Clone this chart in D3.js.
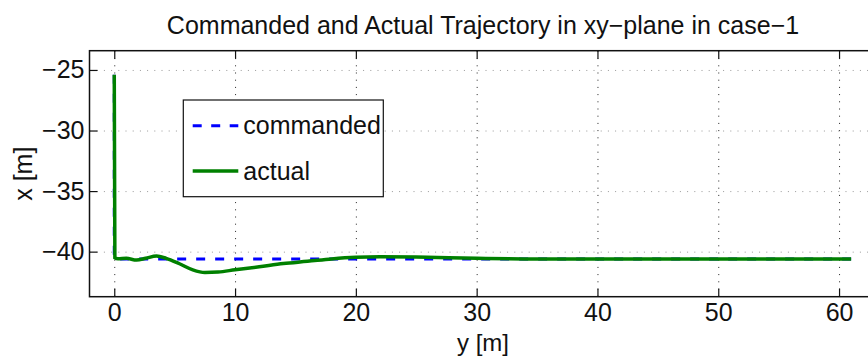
<!DOCTYPE html>
<html>
<head>
<meta charset="utf-8">
<script src="https://cdn.jsdelivr.net/npm/d3@7"></script>
<style>
body { margin: 0; background: #fff; }
text { font-family: "Liberation Sans", Arial, sans-serif; fill: #111; }
.axis path { display: none; }
.axis line { stroke: #111; stroke-width: 1.2; }
.axis text { font-size: 25px; }
.grid-h line { stroke: #999; stroke-dasharray: 1,6.2; stroke-width: 1; }
.grid-v line { stroke: #222; stroke-dasharray: 1,6.2; stroke-width: 1; }
.grid-h path, .grid-v path { display: none; }
</style>
</head>
<body>
<div id="chart"></div>
<script>
// chart data (y along horizontal, x along vertical)
const cmdY = [0, 0, 61];
const cmdX = [-25.4, -40.6, -40.6];

const actY = [0, 0.05, 0.3, 1.0, 1.85, 2.6, 3.5, 4.3, 5.4, 6.5, 7.5, 8.6, 10, 12, 14, 16, 18, 20, 22, 25, 30, 35, 40, 50, 61];
const actX = [-25.4, -40.5, -40.58, -40.55, -40.7, -40.55, -40.36, -40.55, -41.0, -41.5, -41.72, -41.68, -41.5, -41.25, -40.98, -40.8, -40.6, -40.47, -40.43, -40.45, -40.55, -40.6, -40.6, -40.6, -40.6];

const xTicks = [0, 10, 20, 30, 40, 50, 60];
const yTicks = [-40, -35, -30, -25];

const labels = {title: 'Commanded and Actual Trajectory in xy\u2212plane in case\u22121', x: 'y [m]', y: 'x [m]'};
const legendNames = ['commanded', 'actual'];

const width = 868, height = 356;
const margin = {top: 50.7, left: 89.5, bottom: 296.7, right: 876.5};

const xScale = d3.scaleLinear().domain([-2.05, 63.1]).range([margin.left, margin.right]);
const yScale = d3.scaleLinear().domain([-43.72, -23.41]).range([margin.bottom, margin.top]);
const fmt = d => d < 0 ? '\u2212' + Math.abs(d) : d;

let svg = d3.select('#chart').append('svg')
    .attr('width', width)
    .attr('height', height);

const plotH = margin.bottom - margin.top;
const plotW = margin.right - margin.left;

// grid
svg.append('g')
    .attr('class', 'grid-v')
    .attr('transform', 'translate(0,' + margin.bottom + ')')
    .call(d3.axisBottom(xScale).tickValues(xTicks).tickSize(-plotH).tickFormat(''));
svg.append('g')
    .attr('class', 'grid-h')
    .attr('transform', 'translate(' + margin.left + ',0)')
    .call(d3.axisLeft(yScale).tickValues(yTicks).tickSize(-plotW).tickFormat(''));

// lines
const line = d3.line().x(d => xScale(d[0])).y(d => yScale(d[1]));
svg.append('path')
    .datum(cmdY.map((v, i) => [v, cmdX[i]]))
    .attr('d', line)
    .attr('fill', 'none')
    .attr('stroke', '#0000ff')
    .attr('stroke-width', 3)
    .attr('stroke-dasharray', '9,10');
svg.append('path')
    .datum(actY.map((v, i) => [v, actX[i]]))
    .attr('d', d3.line().curve(d3.curveMonotoneX).x(d => xScale(d[0])).y(d => yScale(d[1])))
    .attr('fill', 'none')
    .attr('stroke', '#008000')
    .attr('stroke-width', 3.5);

// axes with inward ticks
svg.append('g')
    .attr('class', 'axis')
    .attr('transform', 'translate(0,' + margin.bottom + ')')
    .call(d3.axisBottom(xScale).tickValues(xTicks).tickSize(-8).tickPadding(7).tickFormat(fmt));
svg.append('g')
    .attr('class', 'axis')
    .attr('transform', 'translate(0,' + margin.top + ')')
    .call(d3.axisTop(xScale).tickValues(xTicks).tickSize(-8).tickFormat(''));
svg.append('g')
    .attr('class', 'axis')
    .attr('transform', 'translate(' + margin.left + ',0)')
    .call(d3.axisLeft(yScale).tickValues(yTicks).tickSize(-8).tickPadding(5).tickFormat(fmt));

// box
svg.append('rect')
    .attr('x', margin.left).attr('y', margin.top)
    .attr('width', plotW).attr('height', plotH)
    .attr('fill', 'none').attr('stroke', '#111').attr('stroke-width', 1.5);

// title and labels
const cx = (margin.left + margin.right) / 2;
svg.append('text')
    .attr('x', cx).attr('y', 34)
    .attr('text-anchor', 'middle')
    .style('font-size', '25px')
    .text(labels.title);
svg.append('text')
    .attr('x', cx).attr('y', 351)
    .attr('text-anchor', 'middle')
    .style('font-size', '24px')
    .text(labels.x);
svg.append('text')
    .attr('transform', 'translate(32,' + (margin.top + plotH / 2) + ') rotate(-90)')
    .attr('text-anchor', 'middle')
    .style('font-size', '25px')
    .text(labels.y);

// legend
const lg = svg.append('g');
lg.append('rect')
    .attr('x', 183.3).attr('y', 100)
    .attr('width', 200).attr('height', 96.7)
    .attr('fill', '#fff').attr('stroke', '#111').attr('stroke-width', 1.2);
const legendStyle = [{c: '#0000ff', w: 3, dash: '9,9.5', y: 125.7}, {c: '#008000', w: 3.5, dash: null, y: 171}];
legendNames.forEach((name, i) => {
    const s = legendStyle[i];
    lg.append('line')
        .attr('x1', 192.7).attr('x2', 238.3)
        .attr('y1', s.y).attr('y2', s.y)
        .attr('stroke', s.c).attr('stroke-width', s.w)
        .attr('stroke-dasharray', s.dash);
    lg.append('text')
        .attr('x', 243.3).attr('y', s.y + 8.5)
        .style('font-size', '25px')
        .text(name);
});
</script>
</body>
</html>
